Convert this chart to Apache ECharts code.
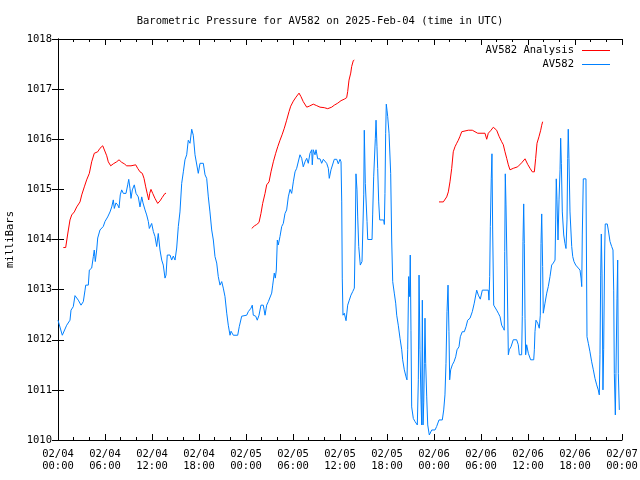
<!DOCTYPE html>
<html>
<head>
<meta charset="utf-8">
<script src="https://cdn.jsdelivr.net/npm/echarts@6/dist/echarts.min.js"></script>
<style>html,body{margin:0;padding:0;background:#fff;}#c{width:640px;height:480px;}</style>
</head>
<body>
<div id="c"></div>
<script>
// Hours since 2025-02-04 00:00 UTC, pressure in millibars
const seriesNames = ["AV582 Analysis", "AV582"];
const analysisData = [
[0.68,1013.84],[0.98,1013.84],[1.24,1014.11],[1.53,1014.39],[1.75,1014.49],[2.08,1014.55],[2.39,1014.65],[2.81,1014.75],[3.03,1014.89],[3.36,1015.05],[3.66,1015.19],[4.0,1015.32],[4.30,1015.55],[4.63,1015.72],[5.07,1015.75],[5.36,1015.82],[5.71,1015.87],[5.91,1015.85],[6.22,1015.67],[6.42,1015.55],[6.73,1015.47],[7.06,1015.51],[7.49,1015.55],[7.79,1015.59],[8.13,1015.54],[8.46,1015.51],[8.77,1015.47],[9.32,1015.47],[9.54,1015.49],[9.92,1015.49],[10.17,1015.42],[10.47,1015.35],[10.76,1015.32],[10.98,1015.22],[11.20,1015.05],[11.40,1014.91],[11.58,1014.79],[11.71,1014.92],[11.87,1015.0],[12.09,1014.92],[12.38,1014.82],[12.73,1014.72],[13.02,1014.77],[13.31,1014.84],[13.66,1014.92],[13.79,1014.92],
[19.0,null],
[24.73,1014.22],[25.06,1014.27],[25.37,1014.30],[25.66,1014.34],[25.91,1014.52],[26.13,1014.72],[26.43,1014.92],[26.64,1015.09],[26.94,1015.15],[27.19,1015.35],[27.49,1015.55],[27.79,1015.72],[28.05,1015.85],[28.34,1015.98],[28.63,1016.10],[28.89,1016.22],[29.19,1016.38],[29.49,1016.55],[29.71,1016.66],[30.04,1016.76],[30.38,1016.84],[30.77,1016.92],[31.02,1016.85],[31.31,1016.75],[31.75,1016.64],[32.08,1016.66],[32.59,1016.70],[33.03,1016.67],[33.45,1016.64],[33.99,1016.63],[34.43,1016.61],[34.63,1016.60],[34.94,1016.64],[35.27,1016.68],[35.71,1016.72],[36.13,1016.77],[36.55,1016.80],[36.85,1016.83],[36.98,1016.95],[37.15,1017.18],[37.37,1017.32],[37.49,1017.45],[37.70,1017.57],[37.83,1017.58],
[43.0,null],
[48.64,1014.75],[49.19,1014.75],[49.40,1014.74],[49.62,1014.85],[49.83,1014.95],[50.04,1015.15],[50.26,1015.42],[50.46,1015.75],[50.68,1015.85],[50.90,1015.92],[51.10,1015.98],[51.32,1016.06],[51.54,1016.15],[51.74,1016.18],[52.38,1016.18],[52.89,1016.18],[53.14,1016.15],[53.58,1016.12],[54.51,1016.12],[54.73,1016.0],[54.93,1016.12],[55.28,1016.18],[55.57,1016.24],[55.79,1016.25],[56.0,1016.18],[56.30,1016.06],[56.64,1015.95],[56.85,1015.89],[57.06,1015.75],[57.28,1015.62],[57.49,1015.49],[57.70,1015.39],[58.12,1015.42],[58.68,1015.45],[59.19,1015.53],[59.62,1015.61],[59.96,1015.50],[60.26,1015.42],[60.55,1015.35],[60.81,1015.35],[60.98,1015.62],[61.15,1015.92],[61.40,1016.05],[61.62,1016.18],[61.75,1016.28],[61.87,1016.35]
];
const stationData = [
[0,1012.39],[0.55,1012.09],[1.11,1012.29],[1.53,1012.39],[1.66,1012.59],[1.95,1012.66],[2.17,1012.88],[2.59,1012.79],[2.94,1012.69],[3.23,1012.76],[3.45,1012.99],[3.54,1013.09],[3.87,1013.09],[4.0,1013.39],[4.30,1013.43],[4.51,1013.66],[4.63,1013.79],[4.76,1013.56],[4.94,1013.79],[5.07,1014.03],[5.36,1014.19],[5.78,1014.26],[6.0,1014.36],[6.34,1014.45],[6.64,1014.55],[6.86,1014.65],[7.06,1014.79],[7.19,1014.62],[7.40,1014.73],[7.62,1014.69],[7.79,1014.63],[7.95,1014.89],[8.13,1014.99],[8.34,1014.92],[8.68,1014.92],[8.90,1015.09],[9.03,1015.20],[9.19,1015.02],[9.32,1014.82],[9.49,1014.99],[9.74,1015.09],[9.96,1014.92],[10.25,1014.85],[10.47,1014.65],[10.69,1014.85],[10.85,1014.73],[11.11,1014.59],[11.32,1014.49],[11.53,1014.36],[11.66,1014.22],[11.96,1014.32],[12.17,1014.16],[12.38,1014.06],[12.60,1013.86],[12.80,1014.12],[13.02,1013.79],[13.24,1013.59],[13.44,1013.49],[13.66,1013.23],[13.79,1013.29],[13.95,1013.69],[14.30,1013.69],[14.51,1013.59],[14.72,1013.67],[14.94,1013.59],[15.15,1013.83],[15.36,1014.26],[15.57,1014.55],[15.79,1015.12],[16.0,1015.35],[16.21,1015.59],[16.43,1015.69],[16.63,1015.98],[16.85,1015.92],[17.07,1016.20],[17.27,1016.08],[17.49,1015.69],[17.71,1015.72],[17.91,1015.32],[18.13,1015.52],[18.55,1015.52],[18.77,1015.29],[18.98,1015.22],[19.19,1014.85],[19.40,1014.55],[19.62,1014.19],[19.83,1013.99],[20.04,1013.66],[20.26,1013.53],[20.46,1013.26],[20.68,1013.09],[20.90,1013.16],[21.10,1013.03],[21.32,1012.86],[21.54,1012.53],[21.74,1012.29],[21.96,1012.09],[22.09,1012.17],[22.38,1012.09],[22.94,1012.09],[23.14,1012.26],[23.45,1012.47],[24.09,1012.49],[24.29,1012.56],[24.64,1012.63],[24.80,1012.69],[24.93,1012.49],[25.24,1012.47],[25.44,1012.39],[25.66,1012.49],[25.91,1012.69],[26.21,1012.69],[26.43,1012.49],[26.64,1012.69],[26.85,1012.76],[27.06,1012.79],[27.28,1012.93],[27.41,1013.09],[27.61,1013.33],[27.74,1013.23],[27.87,1013.39],[28.0,1013.99],[28.12,1013.89],[28.34,1014.06],[28.56,1014.26],[28.76,1014.32],[28.98,1014.52],[29.19,1014.59],[29.40,1014.85],[29.62,1015.0],[29.83,1014.92],[30.04,1015.15],[30.26,1015.35],[30.47,1015.42],[30.68,1015.45],[30.89,1015.69],[31.11,1015.62],[31.31,1015.45],[31.53,1015.55],[31.75,1015.62],[31.95,1015.52],[32.17,1015.72],[32.39,1015.79],[32.46,1015.49],[32.59,1015.79],[32.81,1015.69],[32.94,1015.79],[33.15,1015.61],[33.45,1015.61],[33.66,1015.52],[33.87,1015.60],[34.09,1015.60],[34.30,1015.52],[34.51,1015.42],[34.63,1015.22],[34.85,1015.39],[35.07,1015.40],[35.27,1015.60],[35.58,1015.60],[35.78,1015.51],[36.0,1015.60],[36.13,1015.55],[36.22,1014.75],[36.29,1013.23],[36.38,1012.49],[36.55,1012.53],[36.77,1012.38],[36.98,1012.69],[37.19,1012.79],[37.40,1012.89],[37.62,1012.96],[37.83,1013.03],[37.96,1014.19],[38.04,1015.31],[38.17,1014.99],[38.26,1014.45],[38.39,1013.86],[38.59,1013.49],[38.81,1013.56],[39.03,1014.89],[39.10,1016.18],[39.23,1015.12],[39.45,1014.36],[39.54,1014.0],[40.09,1014.0],[40.17,1014.49],[40.30,1015.25],[40.51,1016.02],[40.60,1016.38],[40.72,1015.85],[40.81,1015.42],[40.94,1014.75],[41.07,1014.39],[41.58,1014.39],[41.66,1014.30],[41.74,1014.92],[41.83,1016.12],[41.91,1016.70],[42.0,1016.58],[42.09,1016.45],[42.26,1016.12],[42.47,1015.32],[42.60,1013.99],[42.73,1013.16],[42.93,1012.93],[43.11,1012.73],[43.24,1012.49],[43.44,1012.29],[43.66,1012.03],[43.88,1011.80],[44.0,1011.60],[44.21,1011.40],[44.43,1011.26],[44.55,1011.20],[44.64,1011.80],[44.77,1013.26],[44.90,1012.86],[44.97,1013.69],[45.06,1012.19],[45.15,1010.66],[45.36,1010.43],[45.57,1010.37],[45.87,1010.30],[46.0,1011.20],[46.09,1013.29],[46.21,1011.80],[46.34,1010.80],[46.43,1010.30],[46.51,1012.79],[46.60,1010.30],[46.69,1010.74],[46.77,1011.53],[46.85,1012.43],[46.94,1011.53],[47.07,1010.86],[47.20,1010.30],[47.40,1010.10],[47.71,1010.20],[48.13,1010.20],[48.34,1010.27],[48.64,1010.40],[49.06,1010.40],[49.24,1010.60],[49.40,1010.90],[49.53,1011.53],[49.66,1012.56],[49.79,1013.09],[49.91,1012.16],[50.0,1011.20],[50.13,1011.40],[50.34,1011.50],[50.55,1011.56],[50.77,1011.66],[50.94,1011.80],[51.19,1011.86],[51.36,1012.06],[51.61,1012.16],[51.87,1012.16],[52.09,1012.26],[52.30,1012.39],[52.60,1012.43],[52.89,1012.56],[53.14,1012.73],[53.45,1012.99],[53.66,1012.89],[53.91,1012.81],[54.17,1012.99],[54.93,1012.99],[55.02,1012.79],[55.11,1013.26],[55.19,1014.26],[55.31,1015.21],[55.40,1015.71],[55.49,1014.19],[55.62,1012.69],[55.79,1012.66],[56.0,1012.59],[56.21,1012.53],[56.43,1012.46],[56.64,1012.29],[56.85,1012.23],[56.97,1012.19],[57.03,1013.76],[57.10,1015.31],[57.19,1014.69],[57.32,1013.49],[57.49,1011.70],[57.61,1011.80],[57.83,1011.86],[58.12,1012.0],[58.55,1012.0],[58.76,1011.90],[58.89,1011.70],[59.19,1011.70],[59.27,1012.46],[59.36,1013.96],[59.45,1014.71],[59.53,1013.92],[59.62,1012.43],[59.70,1011.70],[59.83,1011.90],[60.04,1011.73],[60.34,1011.60],[60.73,1011.60],[60.81,1011.80],[60.89,1012.16],[61.02,1012.39],[61.24,1012.33],[61.44,1012.23],[61.57,1012.49],[61.66,1013.92],[61.75,1014.51],[61.87,1013.46],[61.95,1012.53],[62.17,1012.73],[62.39,1012.93],[62.59,1013.06],[62.81,1013.26],[63.02,1013.49],[63.23,1013.53],[63.45,1013.59],[63.54,1014.39],[63.61,1015.21],[63.70,1014.79],[63.83,1013.99],[63.96,1014.79],[64.09,1015.39],[64.17,1016.02],[64.26,1015.52],[64.38,1014.55],[64.56,1014.09],[64.72,1013.92],[64.85,1013.82],[64.98,1014.39],[65.07,1015.62],[65.14,1016.20],[65.23,1015.62],[65.36,1014.55],[65.58,1013.86],[65.71,1013.66],[65.87,1013.56],[66.09,1013.49],[66.42,1013.43],[66.64,1013.39],[66.77,1013.23],[66.86,1013.06],[66.93,1014.09],[67.06,1015.21],[67.40,1015.21],[67.53,1012.06],[67.70,1011.93],[67.91,1011.76],[68.13,1011.56],[68.34,1011.40],[68.55,1011.23],[68.77,1011.10],[68.97,1011.0],[69.10,1010.90],[69.19,1011.70],[69.28,1013.29],[69.36,1014.11],[69.45,1013.33],[69.57,1011.0],[69.66,1011.80],[69.79,1013.79],[69.86,1014.31],[70.12,1014.31],[70.25,1014.19],[70.47,1013.96],[70.68,1013.86],[70.85,1013.79],[70.94,1012.99],[71.02,1011.33],[71.15,1010.50],[71.23,1011.33],[71.36,1012.83],[71.45,1013.59],[71.53,1011.33],[71.66,1010.60],[71.74,1010.60]
];
const xMin = 0, xMax = 72, xStep = 6;
const yMin = 1010, yMax = 1018, yStep = 1;
const startDay = 4;
const titleText = "Barometric Pressure for AV582 on 2025-Feb-04 (time in UTC)";
const yAxisTitle = "milliBars";

const FONT = "DejaVu Sans Mono";
function pad(n){ return (n < 10 ? "0" : "") + n; }
function xLabel(v){
  const d = startDay + Math.floor(v / 24);
  const h = Math.round(v % 24);
  return "02/" + pad(d) + "\n" + pad(h) + ":00";
}
const tickCommon = { show: true, inside: true, length: 6, lineStyle: { color: "#000", width: 1 } };
const minorCommon = { show: true, splitNumber: 3, length: 3, lineStyle: { color: "#000", width: 1 } };

const chart = echarts.init(document.getElementById("c"), null, { renderer: "canvas" });
chart.setOption({
  animation: false,
  backgroundColor: "#fff",
  title: {
    text: titleText, left: "center", top: 11,
    textStyle: { fontFamily: FONT, fontSize: 10.5, fontWeight: "normal", color: "#000" }
  },
  legend: {
    orient: "vertical", right: 25, top: 40, align: "right",
    icon: "rect", itemWidth: 28, itemHeight: 1, itemGap: 3,
    textStyle: { fontFamily: FONT, fontSize: 10.5, color: "#000", padding: [0, 3, 0, 0] },
    data: seriesNames
  },
  grid: { left: 58, right: 18, top: 39, bottom: 40, containLabel: false, outerBoundsMode: "none" },
  xAxis: [
    { type: "value", min: xMin, max: xMax, interval: xStep, position: "bottom",
      axisLine: { show: true, lineStyle: { color: "#000", width: 1 } },
      axisTick: tickCommon, minorTick: minorCommon, splitLine: { show: false },
      axisLabel: { formatter: xLabel, fontFamily: FONT, fontSize: 10.5, color: "#000", lineHeight: 12, margin: 8, showMinLabel: true, showMaxLabel: true, hideOverlap: false }
    },
    { type: "value", min: xMin, max: xMax, interval: xStep, position: "top",
      axisLine: { show: true, lineStyle: { color: "#000", width: 1 } },
      axisTick: tickCommon, minorTick: minorCommon, splitLine: { show: false },
      axisLabel: { show: false }
    }
  ],
  yAxis: [
    { type: "value", min: yMin, max: yMax, interval: yStep, position: "left",
      name: yAxisTitle, nameLocation: "middle", nameRotate: 90, nameGap: 37,
      nameTextStyle: { fontFamily: FONT, fontSize: 10.5, color: "#000" },
      axisLine: { show: true, lineStyle: { color: "#000", width: 1 } },
      axisTick: tickCommon, splitLine: { show: false },
      axisLabel: { fontFamily: FONT, fontSize: 10.5, color: "#000", margin: 6, formatter: function(v){ return String(v); } }
    },
    { type: "value", min: yMin, max: yMax, interval: yStep, position: "right",
      axisLine: { show: true, lineStyle: { color: "#000", width: 1 } },
      axisTick: tickCommon, splitLine: { show: false },
      axisLabel: { show: false }
    }
  ],
  series: [
    { name: seriesNames[0], type: "line", data: analysisData, showSymbol: false, symbol: "none",
      connectNulls: false, lineStyle: { color: "#ff0000", width: 1 }, itemStyle: { color: "#ff0000" } },
    { name: seriesNames[1], type: "line", data: stationData, showSymbol: false, symbol: "none",
      lineStyle: { color: "#0080ff", width: 1 }, itemStyle: { color: "#0080ff" } }
  ]
});
</script>
</body>
</html>
